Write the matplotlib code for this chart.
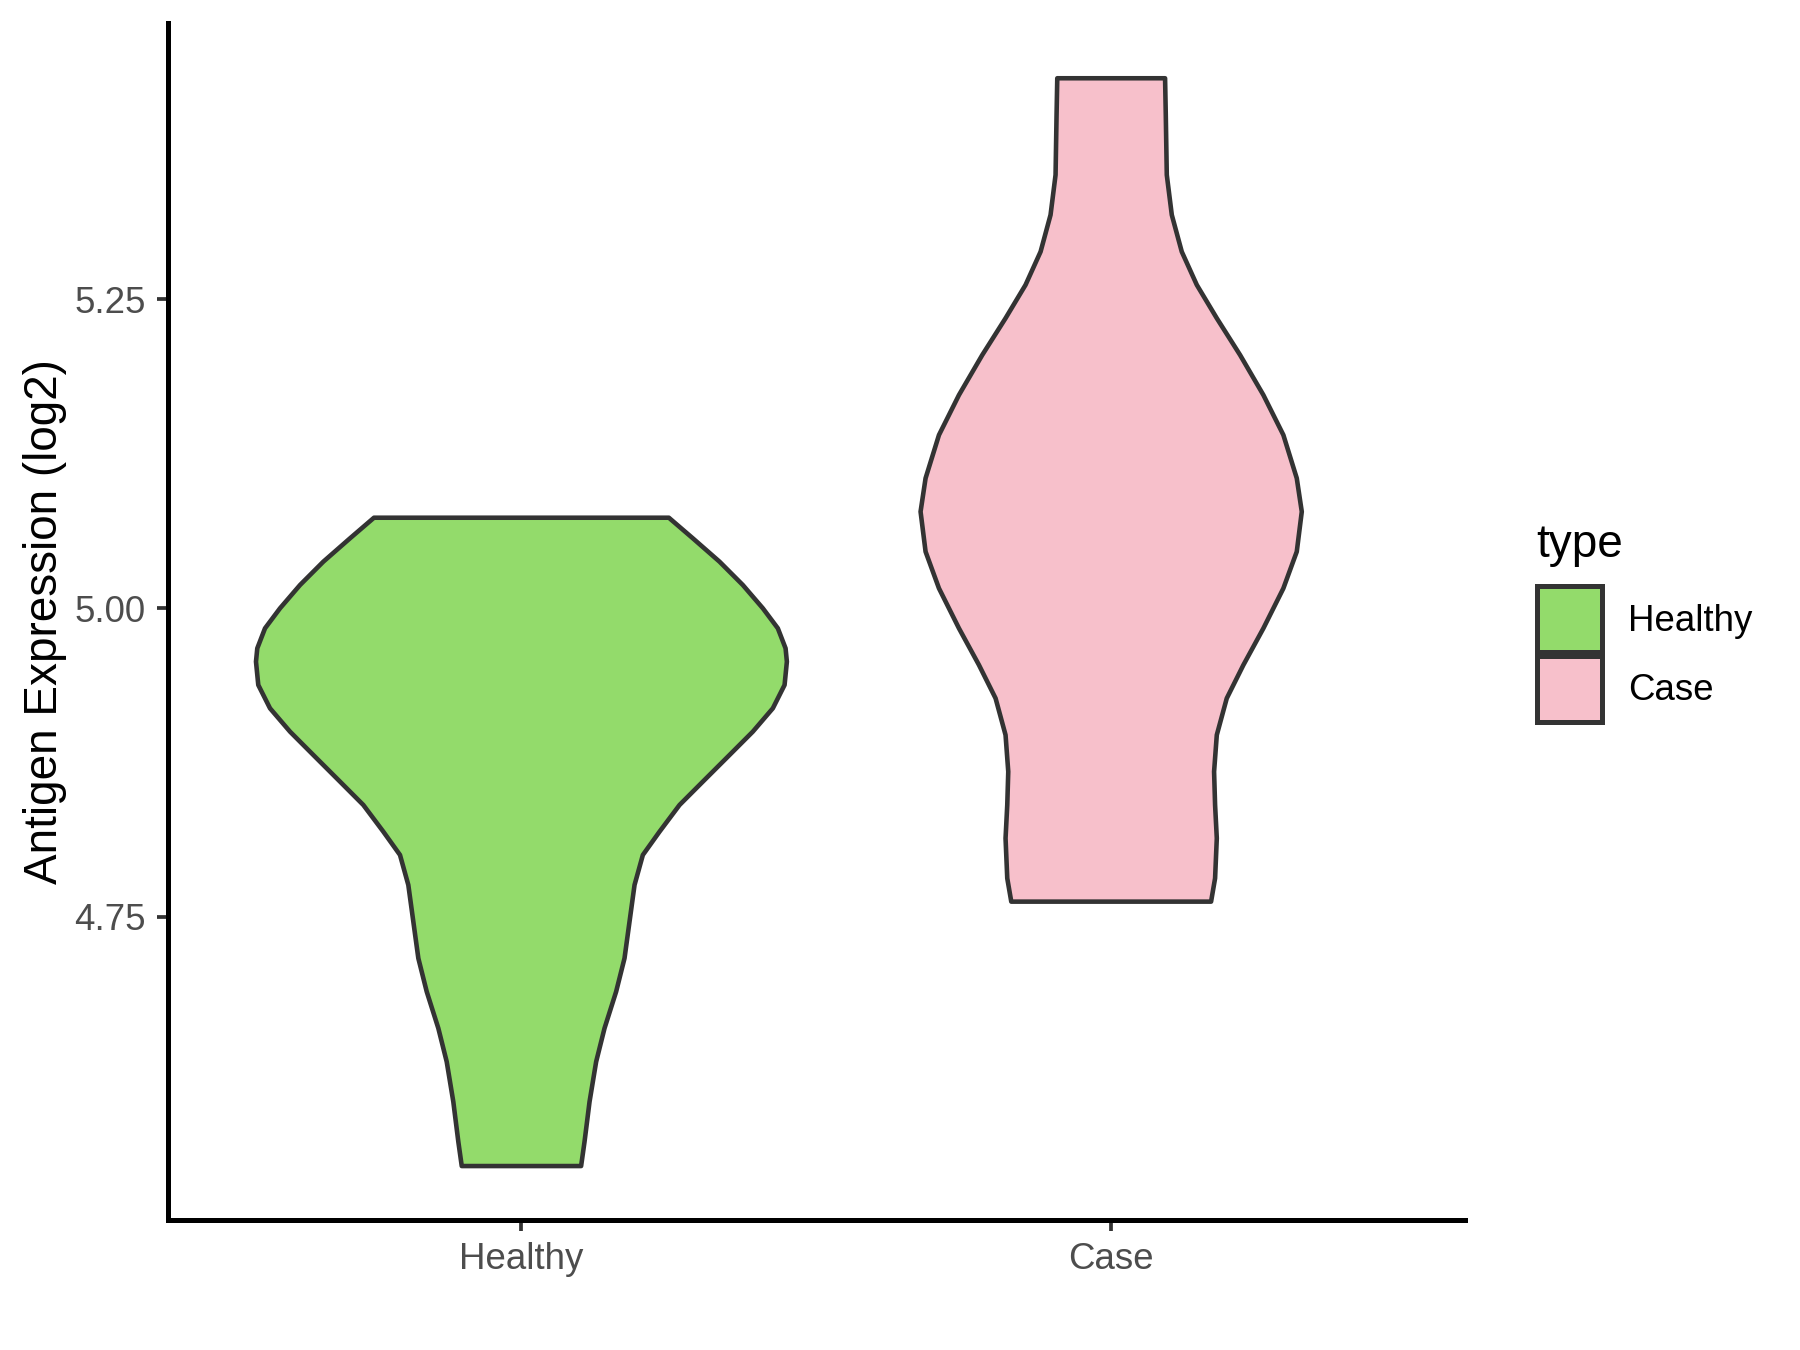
import numpy as np
import matplotlib
matplotlib.use('Agg')
import matplotlib.pyplot as plt
from matplotlib.patches import Patch

plt.rcParams['font.family'] = ['Liberation Sans', 'DejaVu Sans']

groups = ["Healthy", "Case"]
colors = ["#93DB6B", "#F7C0CB"]

# violin outlines: expression level (log2) and half-width (x units)
healthy_y = [5.0732, 5.0565, 5.0376, 5.0187, 4.9998, 4.9836, 4.9674, 4.9566, 4.9377,
             4.9188, 4.8999, 4.8810, 4.8594, 4.8405, 4.8189, 4.8000, 4.7757, 4.7460,
             4.7163, 4.6893, 4.6596, 4.6325, 4.6001, 4.5677, 4.5480]
healthy_w = [0.2500, 0.2907, 0.3359, 0.3754, 0.4094, 0.4348, 0.4479, 0.4501, 0.4462,
             0.4263, 0.3924, 0.3529, 0.3076, 0.2681, 0.2342, 0.2059, 0.1918, 0.1833,
             0.1748, 0.1606, 0.1409, 0.1267, 0.1155, 0.1070, 0.1012]

case_y = [5.4292, 5.3995, 5.3509, 5.3185, 5.2887, 5.2618, 5.2348, 5.2050, 5.1726,
          5.1402, 5.1052, 5.0781, 5.0457, 5.0160, 4.9836, 4.9539, 4.9269, 4.8972,
          4.8675, 4.8405, 4.8135, 4.7811, 4.7622]
case_w = [0.0914, 0.0926, 0.0943, 0.1028, 0.1197, 0.1452, 0.1791, 0.2186, 0.2581,
          0.2920, 0.3147, 0.3232, 0.3147, 0.2920, 0.2581, 0.2242, 0.1960, 0.1791,
          0.1745, 0.1762, 0.1791, 0.1762, 0.1694]

outlines = [(healthy_y, healthy_w), (case_y, case_w)]

fig = plt.figure(figsize=(6, 4.5), dpi=300)
ax = fig.add_axes([0.0931, 0.0963, 0.7208, 0.8867])

for i, (ys, ws) in enumerate(outlines):
    pos = i + 1
    ys = np.array(ys)
    ws = np.array(ws)
    xs = np.concatenate([pos - ws, (pos + ws)[::-1]])
    yy = np.concatenate([ys, ys[::-1]])
    ax.fill(xs, yy, facecolor=colors[i], edgecolor="#333333", linewidth=1.1, joinstyle='round')

ax.set_xlim(0.4, 2.6)
ax.set_ylim(4.5043, 5.474)
ax.set_xticks([1, 2])
ax.set_xticklabels(groups)
ax.set_yticks([4.75, 5.00, 5.25])
ax.set_yticklabels(["4.75", "5.00", "5.25"])
ax.tick_params(axis='both', colors="#333333", labelcolor="#4D4D4D", labelsize=8.8,
               length=2.75, width=0.9, pad=2.5)
ax.set_ylabel("Antigen Expression (log2)", fontsize=11, color="black", labelpad=1.7)

for side in ['top', 'right']:
    ax.spines[side].set_visible(False)
for side in ['left', 'bottom']:
    ax.spines[side].set_linewidth(1.2)
    ax.spines[side].set_color("black")

handles = [Patch(facecolor=c, edgecolor="#333333", linewidth=1.2) for c in colors]
leg = fig.legend(handles, groups, title="type", loc='center left',
                 bbox_to_anchor=(0.8455, 0.539), frameon=False, fontsize=8.8,
                 title_fontsize=11, handlelength=1.78, handleheight=2.37,
                 handletextpad=0.72, labelspacing=0.12, borderaxespad=0)
leg._legend_box.align = "left"
leg._legend_box.sep = 4.7

fig.savefig("out.png", dpi=300)
